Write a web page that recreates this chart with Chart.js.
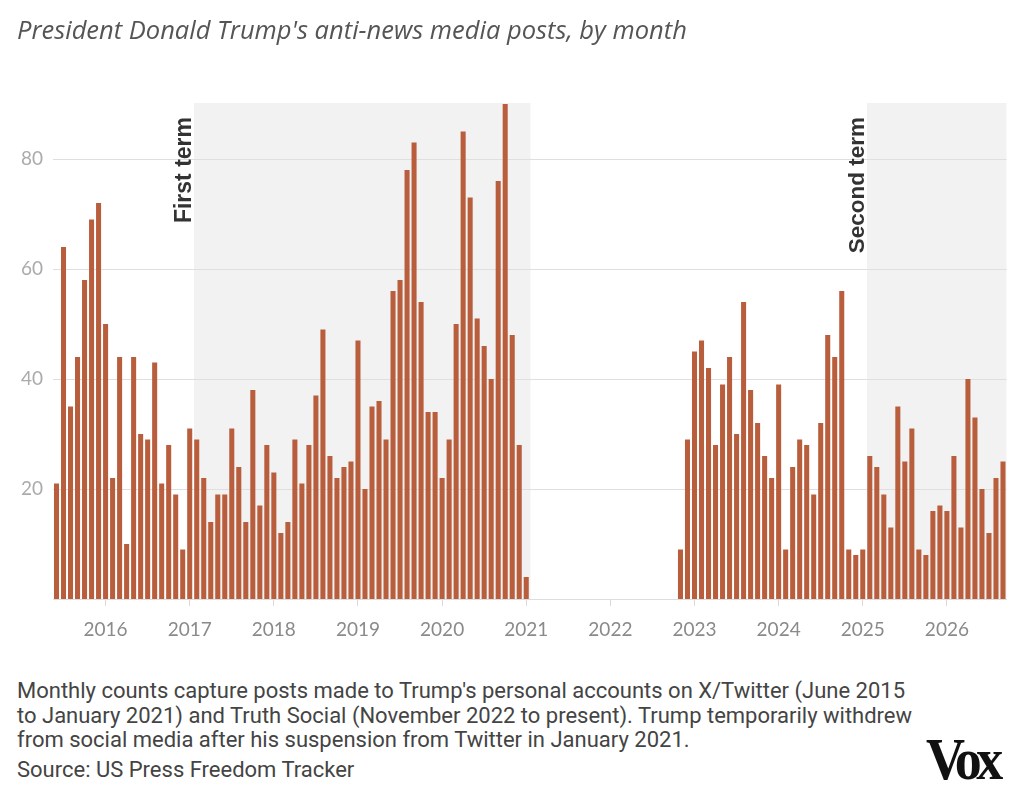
<!DOCTYPE html>
<html>
<head>
<meta charset="utf-8">
<script src="https://cdn.jsdelivr.net/npm/chart.js@4/dist/chart.umd.min.js"></script>
<style>
  html, body { margin: 0; padding: 0; background: #ffffff; }
  body { width: 1024px; height: 801px; position: relative; overflow: hidden; }
  #title { position: absolute; left: 17px; top: 12px; font-family: "Open Sans", sans-serif; font-style: italic; font-size: 25.5px; color: #555555; white-space: nowrap; }
  #wrap { position: absolute; left: 0; top: 0; width: 1024px; height: 660px; }
  #note { position: absolute; left: 17px; top: 679px; font-family: "Roboto", sans-serif; font-size: 22px; line-height: 24.5px; color: #444444; white-space: nowrap; }
  #source { position: absolute; left: 17px; top: 757px; font-family: "Roboto", sans-serif; font-size: 22px; color: #444444; white-space: nowrap; }
  #logo { position: absolute; left: 926px; top: 725px; font-family: "Liberation Serif", serif; font-weight: bold; font-size: 60px; color: #111; letter-spacing: -6px; transform: scaleX(0.9); transform-origin: left top; white-space: nowrap; }
</style>
</head>
<body>
<div id="wrap"><canvas id="c"></canvas></div>
<div id="title">President Donald Trump's anti-news media posts, by month</div>
<div id="note">Monthly counts capture posts made to Trump's personal accounts on X/Twitter (June 2015<br>to January 2021) and Truth Social (November 2022 to present). Trump temporarily withdrew<br>from social media after his suspension from Twitter in January 2021.</div>
<div id="source">Source: US Press Freedom Tracker</div>
<div id="logo">Vox</div>
<script>
// ---- Data ----
const seriesStartMonth = '2015-06';           // first month on the axis
const twitterStartMonth = '2015-06';
const twitterValues = [
  21, 64, 35, 44, 58, 69, 72,                      // 2015 Jun-Dec
  50, 22, 44, 10, 44, 30, 29, 43, 21, 28, 19, 9,   // 2016
  31, 29, 22, 14, 19, 19, 31, 24, 14, 38, 17, 28,  // 2017
  23, 12, 14, 29, 21, 28, 37, 49, 26, 22, 24, 25,  // 2018
  47, 20, 35, 36, 29, 56, 58, 78, 83, 54, 34, 34,  // 2019
  22, 29, 50, 85, 73, 51, 46, 40, 76, 90, 48, 28,  // 2020
  4                                                // 2021 Jan
];
const truthStartMonth = '2022-11';
const truthValues = [
  9, 29,                                           // 2022 Nov-Dec
  45, 47, 42, 28, 39, 44, 30, 54, 38, 32, 26, 22,  // 2023
  39, 9, 24, 29, 28, 19, 32, 48, 44, 56, 9, 8,     // 2024
  9, 26, 24, 19, 13, 35, 25, 31, 9, 8, 16, 17,     // 2025
  16, 26, 13, 40, 33, 20, 12, 22, 25               // 2026 Jan-Sep
];
const yearLabels = ['2016','2017','2018','2019','2020','2021','2022','2023','2024','2025','2026'];
const yTickValues = [20, 40, 60, 80];
const termLabels = ['First term', 'Second term'];
const termStarts = ['2017-01-20', '2025-01-20'];
const termEnds = ['2021-01-20', null];   // null = still ongoing (to end of axis)

// ---- helpers ----
const base = seriesStartMonth.split('-').map(Number);
function monthIndex(str) {
  const p = str.split('-').map(Number);
  let idx = (p[0] - base[0]) * 12 + (p[1] - base[1]);
  if (p[2]) {
    const dim = new Date(p[0], p[1], 0).getDate();
    idx += (p[2] - 1) / dim;
  }
  return idx;
}
const points = [];
const s1 = monthIndex(twitterStartMonth);
twitterValues.forEach((v, i) => points.push({x: s1 + i, y: v}));
const s2 = monthIndex(truthStartMonth);
truthValues.forEach((v, i) => points.push({x: s2 + i, y: v}));
const lastIndex = s2 + truthValues.length - 1;
const yearTicks = yearLabels.map(y => monthIndex(y + '-01'));

const shadePlugin = {
  id: 'terms',
  beforeDraw(chart) {
    const {ctx, chartArea, scales} = chart;
    const xs = scales.x;
    ctx.save();
    ctx.fillStyle = '#f2f2f2';
    termStarts.forEach((s, i) => {
      const x0 = xs.getPixelForValue(monthIndex(s));
      const x1 = termEnds[i] ? xs.getPixelForValue(monthIndex(termEnds[i])) : chartArea.right;
      ctx.fillRect(x0, chartArea.top - 1, x1 - x0, chartArea.bottom - chartArea.top + 1);
    });
    ctx.restore();
  },
  afterDraw(chart) {
    const {ctx, chartArea, scales} = chart;
    const xs = scales.x;
    ctx.save();
    ctx.fillStyle = '#333333';
    ctx.textAlign = 'right';
    ctx.textBaseline = 'alphabetic';
    termStarts.forEach((s, i) => {
      const x0 = xs.getPixelForValue(monthIndex(s));
      ctx.font = 'bold ' + (i === 0 ? 23 : 22.5) + 'px "Liberation Sans", sans-serif';
      ctx.save();
      ctx.translate(x0 - 3, chartArea.top + 13);
      ctx.rotate(-Math.PI / 2);
      ctx.fillText(termLabels[i], 0, 0);
      ctx.restore();
    });
    ctx.restore();
  }
};

new Chart(document.getElementById('c'), {
  type: 'bar',
  data: {
    datasets: [{
      data: points,
      backgroundColor: '#b95e3d',
      borderWidth: 0,
      barPercentage: 0.72,
      categoryPercentage: 1.0
    }]
  },
  options: {
    responsive: true,
    maintainAspectRatio: false,
    animation: false,
    layout: { padding: { top: 104, right: 17.5, left: 0, bottom: 0 } },
    plugins: { legend: { display: false }, tooltip: { enabled: false } },
    scales: {
      x: {
        type: 'linear',
        offset: false,
        min: -0.5,
        max: lastIndex + 0.5,
        afterBuildTicks: (s) => { s.ticks = yearTicks.map(v => ({value: v})); },
        afterFit: (s) => { s.height = 61; },
        ticks: {
          autoSkip: false,
          maxRotation: 0,
          padding: 12,
          color: '#8a8a8a',
          font: { family: 'Lato', size: 19 },
          callback: (v) => { const k = yearTicks.indexOf(v); return k >= 0 ? yearLabels[k] : ''; }
        },
        grid: { drawOnChartArea: false, drawTicks: true, tickLength: 7, tickColor: '#d9d9d9', offset: false },
        border: { display: true, color: '#dddddd', width: 1 }
      },
      y: {
        min: 0,
        max: 90,
        afterBuildTicks: (s) => { s.ticks = yTickValues.map(v => ({value: v})); },
        afterFit: (s) => { s.width = 53; },
        ticks: {
          padding: 10,
          color: '#ababab',
          font: { family: 'Lato', size: 19 }
        },
        grid: { color: '#dfdfdf', drawTicks: false, lineWidth: 1 },
        border: { display: false }
      }
    }
  },
  plugins: [shadePlugin]
});
</script>
</body>
</html>
